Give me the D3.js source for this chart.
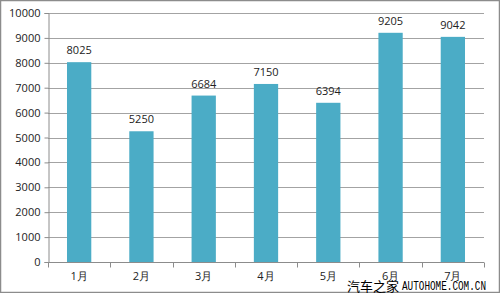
<!DOCTYPE html>
<html>
<head>
<meta charset="utf-8">
<script src="https://cdn.jsdelivr.net/npm/d3@7/dist/d3.min.js"></script>
<style>
  body { margin: 0; background: #fff; }
  svg { display: block; }
</style>
</head>
<body>
<script>
// Data
const months = ["1月", "2月", "3月", "4月", "5月", "6月", "7月"];
const sales = [8025, 5250, 6684, 7150, 6394, 9205, 9042];
const yTicks = [0, 1000, 2000, 3000, 4000, 5000, 6000, 7000, 8000, 9000, 10000];

const W = 500, H = 293;
const PLOT_LEFT = 48, PLOT_RIGHT = 484, PLOT_TOP = 13, PLOT_BOTTOM = 262;
const BAR_COLOR = "#4bacc6";
const GRID_COLOR = "#8c8c8c";
const FONT = "'Open Sans', 'DejaVu Sans', sans-serif";

var svg = d3.select("body").append("svg")
  .attr("width", W)
  .attr("height", H);

// Outer frame
svg.append("rect")
  .attr("x", 0.5).attr("y", 0.5)
  .attr("width", W - 1).attr("height", H - 1)
  .attr("fill", "#fff")
  .attr("stroke", "#8c8c8c")
  .attr("stroke-width", 1.5);

var x = d3.scaleBand()
  .domain(months)
  .range([PLOT_LEFT, PLOT_RIGHT])
  .paddingInner(0.61)
  .paddingOuter(0.305);

var y = d3.scaleLinear()
  .domain([0, 10000])
  .range([PLOT_BOTTOM, PLOT_TOP]);

// Gridlines
svg.append("g")
  .selectAll("line")
  .data(yTicks.filter(d => d > 0))
  .join("line")
  .attr("x1", PLOT_LEFT).attr("x2", PLOT_RIGHT)
  .attr("y1", d => Math.round(y(d)) + 0.5)
  .attr("y2", d => Math.round(y(d)) + 0.5)
  .attr("stroke", GRID_COLOR)
  .attr("stroke-width", 0.8);

// Y axis
var yAxis = svg.append("g")
  .attr("transform", "translate(" + (PLOT_LEFT + 0.5) + ",0)")
  .call(d3.axisLeft(y).tickValues(yTicks).tickSize(4).tickPadding(4).tickFormat(d3.format("d")));
yAxis.selectAll("path, line").attr("stroke", GRID_COLOR);
yAxis.selectAll("text")
  .attr("font-family", FONT)
  .attr("font-size", 11)
  .attr("fill", "#222");

// Bars
svg.append("g")
  .selectAll("rect")
  .data(sales)
  .join("rect")
  .attr("x", (d, i) => x(months[i]))
  .attr("y", d => y(d))
  .attr("width", x.bandwidth())
  .attr("height", d => y(0) - y(d))
  .attr("fill", BAR_COLOR);

// Value labels
svg.append("g")
  .selectAll("text")
  .data(sales)
  .join("text")
  .attr("x", (d, i) => x(months[i]) + x.bandwidth() / 2)
  .attr("y", d => y(d) - 8)
  .attr("text-anchor", "middle")
  .attr("font-family", FONT)
  .attr("font-size", 11)
  .attr("fill", "#222")
  .text(d => d);

// X axis with ticks between categories
var xAxisG = svg.append("g")
  .attr("transform", "translate(0," + (PLOT_BOTTOM + 0.5) + ")");
xAxisG.append("line")
  .attr("x1", PLOT_LEFT).attr("x2", PLOT_RIGHT)
  .attr("stroke", GRID_COLOR);
var step = x.step();
xAxisG.selectAll("line.tick")
  .data(d3.range(months.length + 1))
  .join("line")
  .attr("class", "tick")
  .attr("x1", i => Math.round(PLOT_LEFT + i * step) + 0.5)
  .attr("x2", i => Math.round(PLOT_LEFT + i * step) + 0.5)
  .attr("y1", 0).attr("y2", 5)
  .attr("stroke", GRID_COLOR);
xAxisG.selectAll("text")
  .data(months)
  .join("text")
  .attr("x", d => x(d) + x.bandwidth() / 2)
  .attr("y", 17)
  .attr("text-anchor", "middle")
  .attr("font-family", FONT)
  .attr("font-size", 11)
  .attr("fill", "#222")
  .text(d => d);

// Watermark (sits over the lower part of the last labels, as in the source image)
var wm = svg.append("g");
wm.append("rect")
  .attr("x", 346).attr("y", 281)
  .attr("width", 141).attr("height", 10)
  .attr("fill", "#fff");
wm.append("text")
  .attr("x", 347).attr("y", 291)
  .attr("font-family", "'Noto Sans CJK SC', sans-serif")
  .attr("font-size", 13)
  .attr("fill", "#000")
  .text("汽车之家");
wm.append("text")
  .attr("x", 402).attr("y", 290)
  .attr("font-family", "'Liberation Mono', 'DejaVu Sans Mono', monospace")
  .attr("font-size", 12)
  .attr("textLength", 84)
  .attr("lengthAdjust", "spacingAndGlyphs")
  .attr("fill", "#000")
  .text("AUTOHOME.COM.CN");
</script>
</body>
</html>
